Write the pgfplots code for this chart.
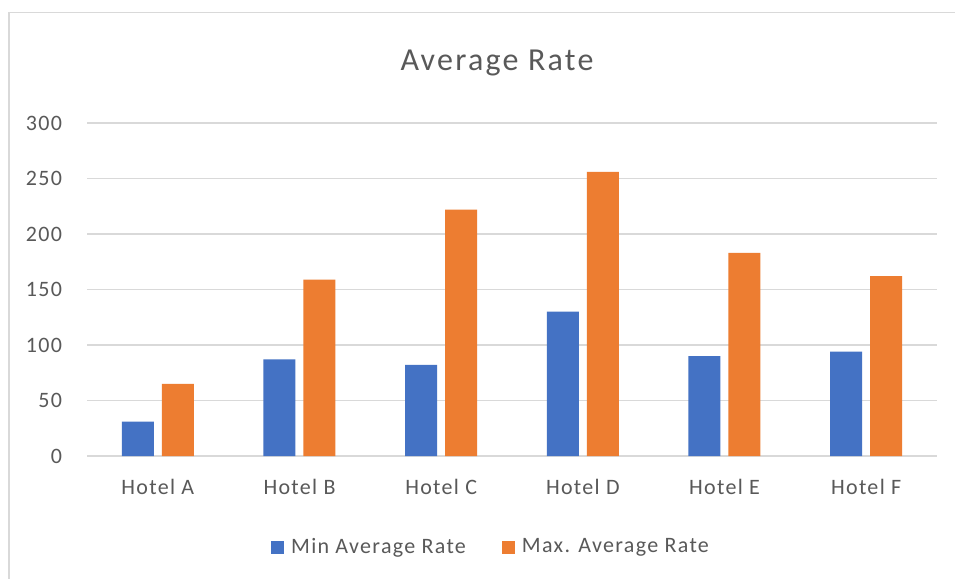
\documentclass[border=0pt]{standalone}
\usepackage{fontspec}
\setmainfont[LetterSpace=6]{Carlito}
\newfontfamily\titlefont[LetterSpace=7]{Carlito}
\usepackage{pgfplots}
\pgfplotsset{compat=1.18}
\definecolor{cblue}{HTML}{4472C4}
\definecolor{corange}{HTML}{ED7D31}
\definecolor{cgrid}{HTML}{D9D9D9}
\definecolor{ctext}{HTML}{595959}
\definecolor{cframe}{HTML}{D9D9D9}
\begin{document}
\begin{tikzpicture}[x=1pt,y=1pt]
\useasboundingbox (0,0) rectangle (477.5,289.5);
\fill[white] (0,0) rectangle (477.5,289.5);
\draw[cframe,line width=0.8pt] (4.5,0) -- (4.5,283.3) -- (477.5,283.3);
\node[text=ctext,font=\titlefont\fontsize{16}{18}\selectfont] at (248.5,258) {Average Rate};
\begin{axis}[
  at={(43.5pt,61.5pt)}, anchor=south west,
  scale only axis, width=425pt, height=166.5pt,
  ybar, bar width=16pt, ybar=4pt,
  xmin=-0.5, xmax=5.5, ymin=0, ymax=300,
  xtick=data,
  xticklabels={Hotel A,Hotel B,Hotel C,Hotel D,Hotel E,Hotel F},
  ytick={0,50,...,300},
  axis line style={draw=none},
  major tick length=0pt,
  ymajorgrids, grid style={cgrid,line width=0.75pt},
  tick label style={text=ctext,font=\fontsize{11}{13}\selectfont},
  /pgf/number format/assume math mode=true,
  yticklabel style={xshift=-9pt},
  xticklabel style={yshift=-8pt},
  legend style={at={(0.4765,-0.2733)}, anchor=center, draw=none, fill=none,
    legend columns=2, font=\fontsize{11}{13}\selectfont, text=ctext,
    /tikz/every odd column/.append style={column sep=1.5pt},
    /tikz/every even column/.append style={column sep=16pt}},
  legend image code/.code={\fill[#1] (0pt,-3.25pt) rectangle (6.5pt,3.25pt);},
  legend cell align=left,
]
\addplot[fill=cblue,draw=none] coordinates {(0,31) (1,87) (2,82) (3,130) (4,90) (5,94)};
\addplot[fill=corange,draw=none] coordinates {(0,65) (1,159) (2,222) (3,256) (4,183) (5,162)};
\legend{Min Average Rate,Max. Average Rate}
\end{axis}
\end{tikzpicture}
\end{document}
